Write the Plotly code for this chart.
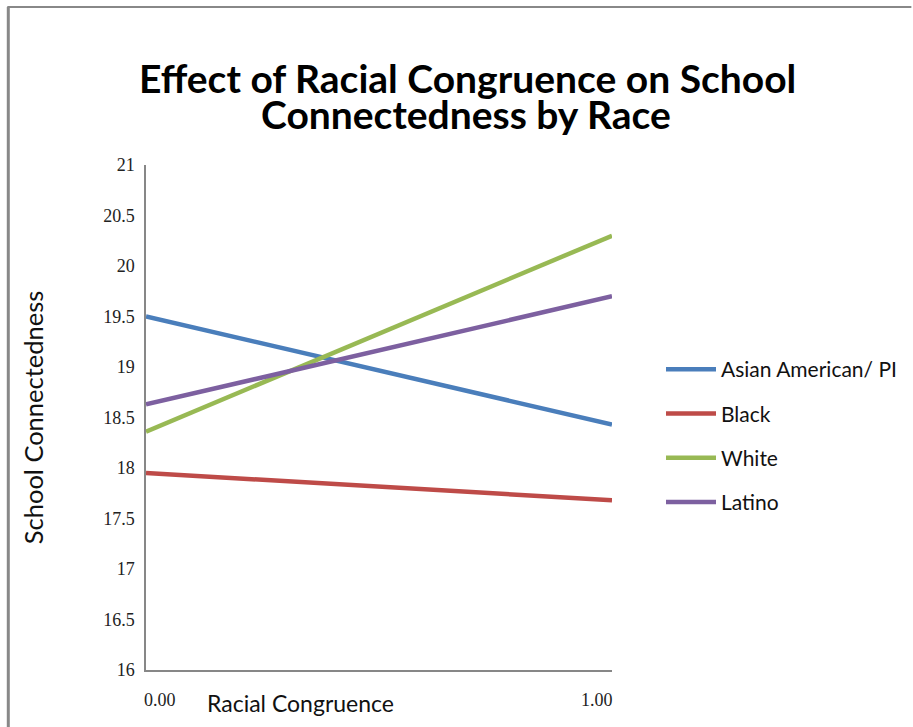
import plotly.graph_objects as go

x_vals = [0, 1]
x_labels = ["0.00", "1.00"]
series_names = ["Asian American/ PI", "Black", "White", "Latino"]
asian = [19.50, 18.43]
black = [17.95, 17.68]
white = [18.36, 20.30]
latino = [18.63, 19.70]
colors = ["#4A7EBB", "#BE4B48", "#98B954", "#7D60A0"]
y_ticks = [16, 16.5, 17, 17.5, 18, 18.5, 19, 19.5, 20, 20.5, 21]

W, H = 913, 727
L, R, T, B = 146, 913 - 613, 165, 727 - 670
pw, ph = W - L - R, H - T - B

def px(xp):
    return (xp - L) / pw

def py(yp):
    return (H - B - yp) / ph

fig = go.Figure()
for name, vals, c in zip(series_names, [asian, black, white, latino], colors):
    fig.add_trace(go.Scatter(x=x_vals, y=vals, mode="lines", name=name,
                             legendgroup=name,
                             line=dict(color=c, width=4.5)))

fig.update_layout(
    width=W, height=H,
    margin=dict(l=L, r=R, t=T, b=B),
    paper_bgcolor="white", plot_bgcolor="white",
    showlegend=True,
    legend=dict(x=px(661), y=py(349), xanchor="left", yanchor="top",
                font=dict(family="Lato", size=21, color="#111"),
                tracegroupgap=14, itemwidth=50),
    font=dict(family="Lato"),
)
fig.update_xaxes(range=[0, 1], showgrid=False, zeroline=False, showline=True,
                 linecolor="#878787", linewidth=1.5, showticklabels=False,
                 ticks="")
fig.update_yaxes(range=[16, 21], tickvals=y_ticks,
                 ticktext=[f"{v:g}" for v in y_ticks],
                 showgrid=False, zeroline=False, showline=True,
                 linecolor="#878787", linewidth=1.5, ticks="",
                 ticklabelstandoff=6,
                 tickfont=dict(family="Liberation Serif", size=18, color="#222"))

annotations = []
for xv, lab, sh in zip(x_vals, x_labels, [14, -15]):
    annotations.append(dict(x=xv, y=0, xref="x", yref="paper", text=lab,
                            showarrow=False, xshift=sh, yshift=-30,
                            xanchor="center", yanchor="middle",
                            font=dict(family="Liberation Serif", size=18, color="#222")))
annotations.append(dict(x=px(301), y=py(703), xref="paper", yref="paper",
                        text="Racial Congruence", showarrow=False,
                        xanchor="center", yanchor="middle",
                        font=dict(family="Lato", size=23, color="#111")))
annotations.append(dict(x=px(33), y=py(417), xref="paper", yref="paper",
                        text="School Connectedness", showarrow=False, textangle=-90,
                        xanchor="center", yanchor="middle",
                        font=dict(family="Lato", size=25.5, color="#111")))
annotations.append(dict(x=px(468), y=py(78), xref="paper", yref="paper",
                        text="<b>Effect of Racial Congruence on School</b>",
                        showarrow=False, xanchor="center", yanchor="middle",
                        font=dict(family="Lato", size=39, color="#000")))
annotations.append(dict(x=px(467), y=py(114), xref="paper", yref="paper",
                        text="<b>Connectedness by Race</b>",
                        showarrow=False, xanchor="center", yanchor="middle",
                        font=dict(family="Lato", size=39, color="#000")))
fig.update_layout(annotations=annotations)

fig.add_shape(type="line", xref="paper", yref="paper",
              x0=px(7), x1=px(913), y0=py(7), y1=py(7),
              line=dict(color="#888", width=2))
fig.add_shape(type="line", xref="paper", yref="paper",
              x0=px(8), x1=px(8), y0=py(7), y1=py(727),
              line=dict(color="#888", width=3))

fig.write_html("out.html")
